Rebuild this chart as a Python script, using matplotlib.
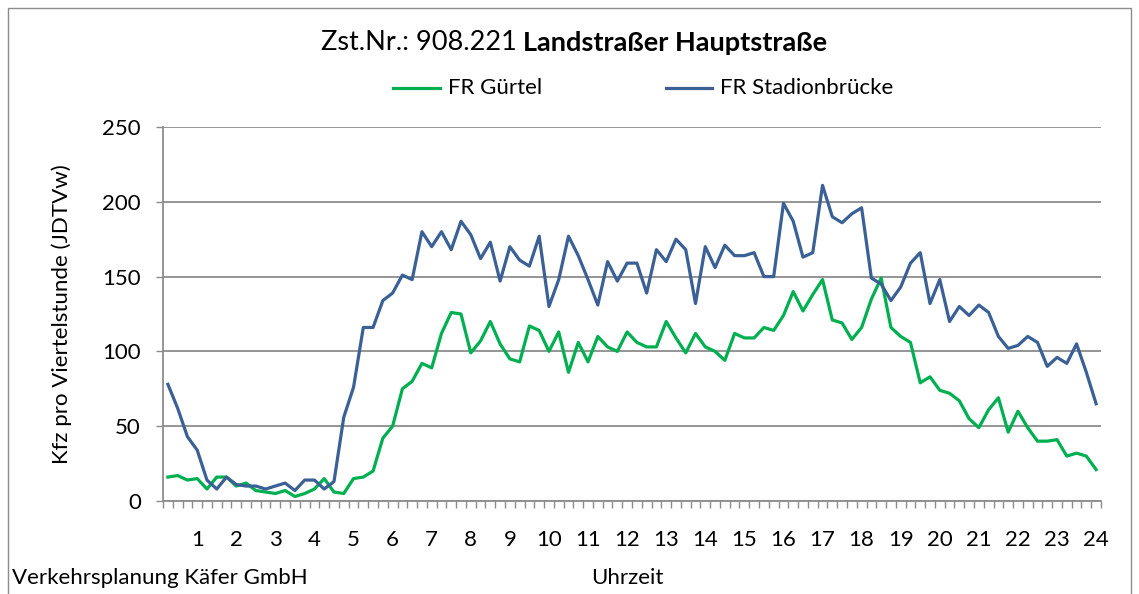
import matplotlib
matplotlib.use("Agg")
import matplotlib.pyplot as plt
from matplotlib.lines import Line2D
from matplotlib.patches import Rectangle
import numpy as np

plt.rcParams['font.family'] = ['Lato', 'DejaVu Sans']

title_regular = "Zst.Nr.: 908.221"
title_bold = "Landstraßer Hauptstraße"
series_names = ["FR Gürtel", "FR Stadionbrücke"]
y_label = "Kfz pro Viertelstunde (JDTVw)"
x_label = "Uhrzeit"
footer = "Verkehrsplanung Käfer GmbH"
hour_labels = [str(h) for h in range(1, 25)]
y_ticks = [0, 50, 100, 150, 200, 250]

# quarter-hour values (end of interval 0:15 ... 24:00)
fr_guertel = [16, 17, 14, 15, 8, 16, 16, 10, 12, 7, 6, 5, 7, 3, 5, 8,
              15, 6, 5, 15, 16, 20, 42, 50, 75, 80, 92, 89, 112, 126, 125, 99,
              107, 120, 105, 95, 93, 117, 114, 100, 113, 86, 106, 93, 110, 103, 100, 113,
              106, 103, 103, 120, 109, 99, 112, 103, 100, 94, 112, 109, 109, 116, 114, 124,
              140, 127, 138, 148, 121, 119, 108, 116, 135, 149, 116, 110, 106, 79, 83, 74,
              72, 67, 55, 49, 61, 69, 46, 60, 49, 40, 40, 41, 30, 32, 30, 21]
fr_stadion = [78, 62, 43, 34, 14, 8, 16, 11, 10, 10, 8, 10, 12, 7, 14, 14,
              8, 13, 56, 76, 116, 116, 134, 139, 151, 148, 180, 170, 180, 168, 187, 178,
              162, 173, 147, 170, 161, 157, 177, 130, 148, 177, 164, 148, 131, 160, 147, 159,
              159, 139, 168, 160, 175, 168, 132, 170, 156, 171, 164, 164, 166, 150, 150, 199,
              187, 163, 166, 211, 190, 186, 192, 196, 149, 145, 134, 143, 159, 166, 132, 148,
              120, 130, 124, 131, 126, 110, 102, 104, 110, 106, 90, 96, 92, 105, 86, 65]

colors = ["#00B050", "#3A6095"]
grid_col = "#8C8C8C"
fs = 16

W, H = 1139, 594
fig = plt.figure(figsize=(W / 100, H / 100), dpi=100)
ax = fig.add_axes([163 / W, 1 - 501 / H, (1101 - 163) / W, (501 - 127) / H])

x = np.arange(1, len(fr_guertel) + 1) * 0.25
ax.plot(x, fr_guertel, color=colors[0], lw=2.3, solid_joinstyle='round')
ax.plot(x, fr_stadion, color=colors[1], lw=2.3, solid_joinstyle='round')

ax.set_xlim(0.125, 24.125)
ax.set_ylim(0, 250)
ax.set_yticks(y_ticks)
ax.set_xticks(np.arange(1, 25))
ax.set_xticklabels(hour_labels)
ax.set_xticks(np.arange(0, 97) * 0.25 + 0.125, minor=True)
ax.tick_params(axis='x', which='major', length=0, pad=21, labelsize=fs)
ax.tick_params(axis='x', which='minor', length=5, color=grid_col, width=1)
ax.tick_params(axis='y', which='major', length=5, color=grid_col, width=1, pad=11, labelsize=fs)
ax.yaxis.grid(True, color=grid_col, lw=1.3)
ax.set_axisbelow(True)
for s in ['top', 'right']:
    ax.spines[s].set_visible(False)
for s in ['left', 'bottom']:
    ax.spines[s].set_color(grid_col)
    ax.spines[s].set_linewidth(1.3)

ax.set_ylabel(y_label, fontsize=fs)
ax.yaxis.set_label_coords((72 - 163) / (1101 - 163), 0.5)

# title
fig.text(517 / W, 1 - 43 / H, title_regular, ha='right', va='center', fontsize=19.5)
fig.text(523 / W, 1 - 43 / H, title_bold, ha='left', va='center', fontsize=19.5, fontweight='bold')

# legend
ly = 1 - 88 / H
fig.add_artist(Line2D([393 / W, 440 / W], [ly, ly], color=colors[0], lw=2.3))
fig.text(448 / W, ly, series_names[0], ha='left', va='center', fontsize=fs)
fig.add_artist(Line2D([666 / W, 712 / W], [ly, ly], color=colors[1], lw=2.3))
fig.text(720 / W, ly, series_names[1], ha='left', va='center', fontsize=fs)

# footer texts
fig.text(12 / W, 1 - 578 / H, footer, ha='left', va='center', fontsize=fs)
fig.text(627 / W, 1 - 578 / H, x_label, ha='center', va='center', fontsize=fs)

# chart border
fig.add_artist(Rectangle((7.5 / W, -0.05), (1131 - 7.5) / W, 1.05 - 8 / H,
                         transform=fig.transFigure, fill=False, edgecolor="#8C8C8C", lw=1))

fig.savefig("out.png", dpi=100)
